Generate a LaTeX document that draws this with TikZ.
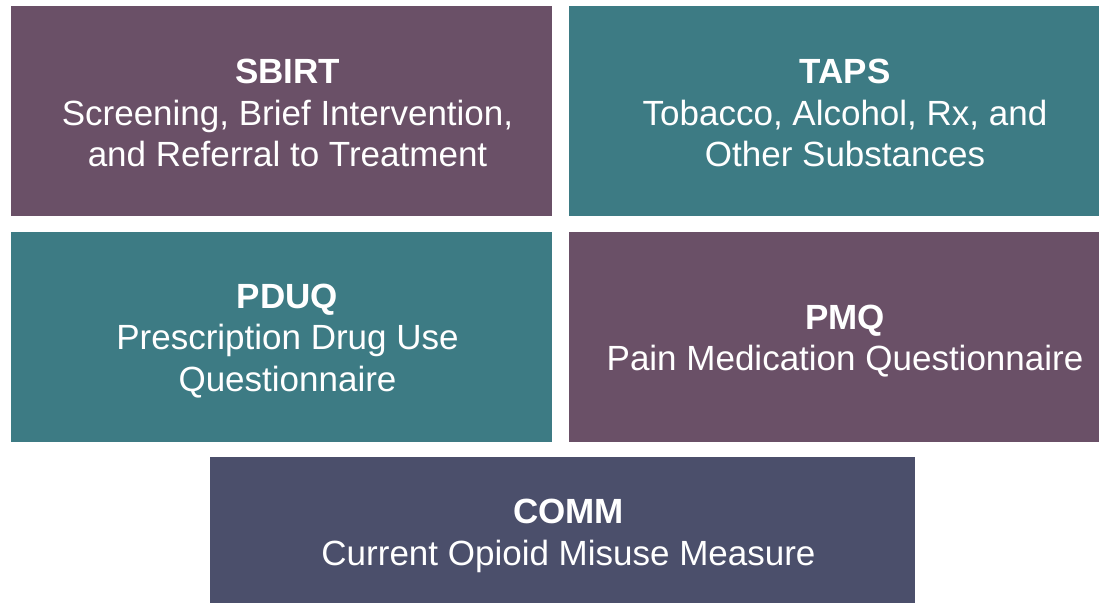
\documentclass[tikz,border=0pt]{standalone}
\usepackage{fontspec}
\setmainfont{Liberation Sans}
\definecolor{plum}{HTML}{6A5067}
\definecolor{teal}{HTML}{3D7B84}
\definecolor{slate}{HTML}{4B4F6B}
\begin{document}
\begin{tikzpicture}[x=1pt, y=-1pt]
	\tikzset{
		box/.style={rectangle, inner sep=0pt, outer sep=0pt, anchor=north west},
		txt/.style={text=white, align=center, inner sep=0pt, font=\fontsize{35}{41.5}\selectfont}
	}
	\useasboundingbox (0, 0) rectangle (1099, 603);
	% Top row
	\node [box, fill=plum, minimum width=541pt, minimum height=210pt] (sbirt) at (11, 6) {};
	\node [box, fill=teal, minimum width=530pt, minimum height=210pt] (taps) at (569, 6) {};
	% Middle row
	\node [box, fill=teal, minimum width=541pt, minimum height=210pt] (pduq) at (11, 232) {};
	\node [box, fill=plum, minimum width=530pt, minimum height=210pt] (pmq) at (569, 232) {};
	% Bottom row
	\node [box, fill=slate, minimum width=705pt, minimum height=146pt] (comm) at (210, 457) {};
	% Labels
	\node [txt] (sbirt-t) at ([xshift=6pt, yshift=-2pt]sbirt.center) {\textbf{SBIRT}\\Screening, Brief Intervention,\\and Referral to Treatment};
	\node [txt] (taps-t) at ([xshift=11pt, yshift=-2pt]taps.center) {\textbf{TAPS}\\Tobacco, Alcohol, Rx, and\\Other Substances};
	\node [txt] (pduq-t) at ([xshift=6pt, yshift=-4pt]pduq.center) {\textbf{PDUQ}\\Prescription Drug Use\\Questionnaire};
	\node [txt] (pmq-t) at ([xshift=11pt, yshift=-4pt]pmq.center) {\textbf{PMQ}\\Pain Medication Questionnaire};
	\node [txt] (comm-t) at ([xshift=6pt, yshift=-6pt]comm.center) {\textbf{COMM}\\Current Opioid Misuse Measure};
\end{tikzpicture}
\end{document}
